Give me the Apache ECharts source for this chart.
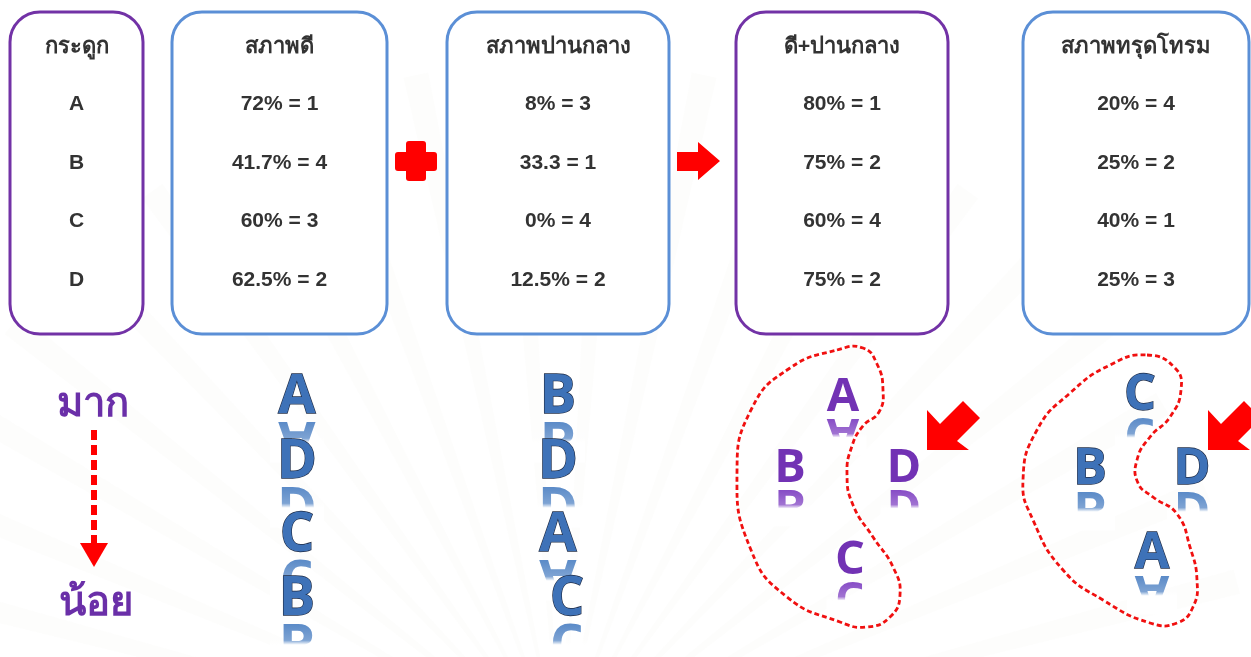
<!DOCTYPE html>
<html><head><meta charset="utf-8">
<script src="https://cdn.jsdelivr.net/npm/echarts@6/dist/echarts.min.js"></script>
<style>html,body{margin:0;padding:0;background:#fff}#c{width:1251px;height:657px}</style>
</head><body><div id="c"></div>
<script>
// ---- data ----
const bones = ['A', 'B', 'C', 'D'];
const headers = ['กระดูก', 'สภาพดี', 'สภาพปานกลาง', 'ดี+ปานกลาง', 'สภาพทรุดโทรม'];
const goodPct = [72, 41.7, 60, 62.5];
const goodRank = [1, 4, 3, 2];
const midPct = [8, 33.3, 0, 12.5];
const midUnit = ['%', '', '%', '%'];
const midRank = [3, 1, 4, 2];
const comboPct = [80, 75, 60, 75];
const comboRank = [1, 2, 4, 2];
const poorPct = [20, 25, 40, 25];
const poorRank = [4, 2, 1, 3];
const scaleLabels = ['มาก', 'น้อย'];

// ---- layout / style ----
const PURPLE = '#7232A6', BLUE = '#5B8FD6', RED = '#FF0000';
const boxes = [
  {x: 10, w: 133, c: PURPLE}, {x: 172, w: 215, c: BLUE}, {x: 447, w: 222, c: BLUE},
  {x: 736, w: 212, c: PURPLE}, {x: 1023, w: 226, c: BLUE}
];
const boxY = 12, boxH = 322, headerY = 47, rowY = [104, 163, 221, 280];
const headFont = 'bold 22px "Noto Sans", "Liberation Sans", sans-serif';
const textFont = 'bold 21px "Liberation Sans", "Noto Sans", sans-serif';

const g = [];
// faint background rays
for (let i = 0; i < 26; i++) {
  const a = Math.PI * (0.95 + i * 1.1 / 25);
  const cx = 560, cy = 760, r = 700;
  g.push({type: 'polygon', silent: true, z: 0, shape: {points: [[cx, cy],
    [cx + r * Math.cos(a - 0.018), cy + r * Math.sin(a - 0.018)],
    [cx + r * Math.cos(a + 0.018), cy + r * Math.sin(a + 0.018)]]},
    style: {fill: 'rgba(225,218,200,0.05)'}});
}

function fmt(v, u) { return v + u; }
const colTexts = [
  bones,
  bones.map((b, i) => fmt(goodPct[i], '%') + ' = ' + goodRank[i]),
  bones.map((b, i) => fmt(midPct[i], midUnit[i]) + ' = ' + midRank[i]),
  bones.map((b, i) => fmt(comboPct[i], '%') + ' = ' + comboRank[i]),
  bones.map((b, i) => fmt(poorPct[i], '%') + ' = ' + poorRank[i])
];
boxes.forEach((b, k) => {
  g.push({type: 'rect', z: 5, shape: {x: b.x, y: boxY, width: b.w, height: boxH, r: 30},
    style: {fill: 'rgba(255,255,255,0.8)', stroke: b.c, lineWidth: 3}});
  const cx = b.x + b.w / 2;
  g.push({type: 'text', z: 6, x: cx, y: headerY, style: {text: headers[k], font: headFont,
    fill: '#333', align: 'center', verticalAlign: 'middle'}});
  colTexts[k].forEach((t, i) => g.push({type: 'text', z: 6, x: cx, y: rowY[i],
    style: {text: t, font: textFont, fill: '#333', align: 'center', verticalAlign: 'middle'}}));
});

// plus sign
g.push({type: 'rect', z: 6, shape: {x: 395, y: 152, width: 42, height: 19, r: 3}, style: {fill: RED}});
g.push({type: 'rect', z: 6, shape: {x: 406, y: 141, width: 20, height: 40, r: 3}, style: {fill: RED}});
// right arrow
g.push({type: 'polygon', z: 6, shape: {points: [[677, 152], [698, 152], [698, 142], [720, 161], [698, 180], [698, 171], [677, 171]]}, style: {fill: RED}});

// bold letters with reflection
function letter(ch, cx, cy, size, purple) {
  const h = size * 0.714;
  const font = 'bold ' + size + 'px "Open Sans", "Liberation Sans", sans-serif';
  const base = cy + h / 2;
  const fill = purple ? '#7232B4' : '#3E72B8';
  g.push({type: 'text', z: 7, x: cx, y: base * 2 - cy + 1, scaleY: -1,
    style: {text: ch, font: font, fill: purple ? '#7A3AC0' : '#4A7EC2', align: 'center', verticalAlign: 'middle', opacity: 0.95}});
  g.push({type: 'rect', z: 8, silent: true, shape: {x: cx - size * 0.5, y: base + 1, width: size, height: h + 6},
    style: {fill: new echarts.graphic.LinearGradient(0, 0, 0, 1, [
      {offset: 0, color: 'rgba(255,255,255,0)'}, {offset: 0.45, color: 'rgba(255,255,255,0.25)'},
      {offset: 0.55, color: 'rgba(255,255,255,1)'}, {offset: 1, color: 'rgba(255,255,255,1)'}])}});
  g.push({type: 'text', z: 9, x: cx, y: cy,
    style: {text: ch, font: font, fill: fill, stroke: purple ? null : '#1E2B45', lineWidth: purple ? 0 : 1.3,
      align: 'center', verticalAlign: 'middle'}});
}
function byRank(rank) { return bones.map((b, i) => i).sort((a, b) => rank[a] - rank[b] || a - b); }

// ranked columns
const colX = [297, 558], colY = [398, 463, 536, 600], colDx = [[0, 0, 0, 0], [0, 0, 0, 9]];
[goodRank, midRank].forEach((rk, k) => {
  byRank(rk).forEach((idx, pos) => letter(bones[idx], colX[k] + colDx[k][pos], colY[pos], 54, false));
});
// diamond groups: top, left, right, bottom
const diamonds = [
  {rank: comboRank, cx: 843, purple: true, slots: [[0, 398], [-53, 469], [61, 469], [7, 561]], size: 47},
  {rank: poorRank, cx: 1140, purple: false, slots: [[0, 396], [-50, 470], [52, 470], [12, 554]], size: 50}
];
diamonds.forEach(d => {
  byRank(d.rank).forEach((idx, pos) => letter(bones[idx], d.cx + d.slots[pos][0], d.slots[pos][1], d.size, d.purple));
});

// dashed red outlines
const curves = [
  [[837, 350], [863, 348], [877, 364], [883, 390], [879, 412], [863, 426], [852, 446], [847, 474], [853, 505], [873, 537], [893, 567], [900, 595], [890, 617], [867, 627], [840, 622], [787, 597], [751, 550], [737, 473], [752, 408], [790, 368]],
  [[1147, 355], [1175, 368], [1181, 390], [1170, 417], [1150, 437], [1137, 460], [1138, 483], [1153, 497], [1177, 514], [1190, 547], [1197, 580], [1193, 607], [1177, 623], [1150, 623], [1103, 600], [1063, 570], [1033, 520], [1023, 480], [1037, 430], [1070, 393], [1110, 365]]
];
curves.forEach(p => g.push({type: 'polygon', z: 10, shape: {points: p, smooth: 0.5},
  style: {fill: null, stroke: '#F01010', lineWidth: 2.8, lineDash: [5, 3]}}));

// diagonal arrows pointing down-left
g.push({type: 'polygon', z: 10, shape: {points: [[927, 450], [927, 410], [940, 424], [963, 401], [980, 418], [957, 441], [969, 450]]}, style: {fill: RED}});
g.push({type: 'polygon', z: 10, shape: {points: [[1208, 450], [1208, 410], [1221, 424], [1244, 401], [1261, 418], [1238, 441], [1250, 450]]}, style: {fill: RED}});

// more -> less scale
g.push({type: 'text', z: 6, x: 93, y: 405, style: {text: scaleLabels[0], font: 'bold 40px "Noto Sans", sans-serif', fill: '#6A2FA8', align: 'center', verticalAlign: 'middle'}});
g.push({type: 'text', z: 6, x: 96, y: 604, style: {text: scaleLabels[1], font: 'bold 40px "Noto Sans", sans-serif', fill: '#6A2FA8', align: 'center', verticalAlign: 'middle'}});
g.push({type: 'line', z: 6, shape: {x1: 94, y1: 430, x2: 94, y2: 546}, style: {stroke: RED, lineWidth: 6, lineDash: [10, 5]}});
g.push({type: 'polygon', z: 6, shape: {points: [[80, 543], [108, 543], [94, 567]]}, style: {fill: RED}});

const chart = echarts.init(document.getElementById('c'), null, {renderer: 'canvas'});
chart.setOption({backgroundColor: '#fff', animation: false, graphic: {elements: g}});
</script></body></html>
